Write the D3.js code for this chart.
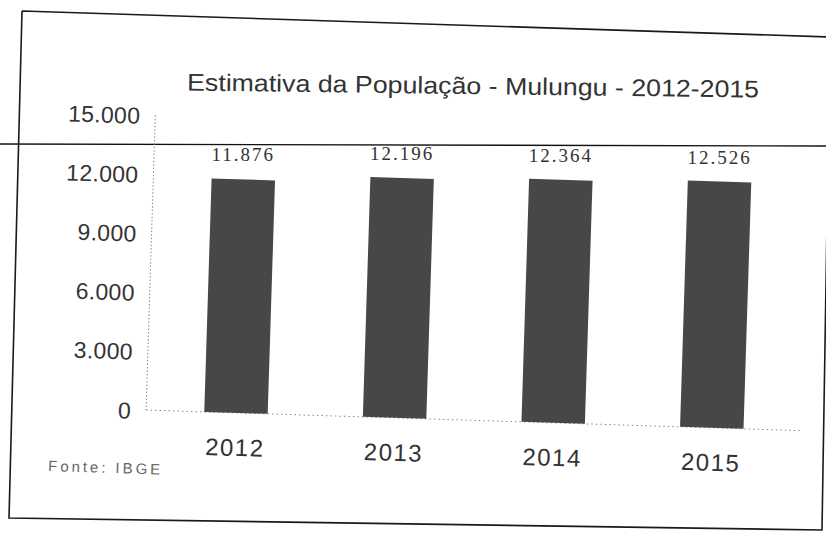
<!DOCTYPE html>
<html>
<head>
<meta charset="utf-8">
<script src="https://cdn.jsdelivr.net/npm/d3@7"></script>
<style>
  body { margin: 0; background: #fff; }
  svg { display: block; }
</style>
</head>
<body>
<svg id="chart" width="826" height="541"></svg>
<script>
// data
const years = ["2012", "2013", "2014", "2015"];
const population = [11876, 12196, 12364, 12526];
const yTicks = [0, 3000, 6000, 9000, 12000, 15000];
const titleText = "Estimativa da População  - Mulungu  -  2012-2015";
const sourceText = "Fonte: IBGE";

const W = 826, H = 541;
// the scan is tilted a little clockwise
const tilt = 1.8, pivot = [240, 413];

const ptBR = d3.formatLocale({ decimal: ",", thousands: ".", grouping: [3], currency: ["R$", ""] });
const fmt = ptBR.format(",d");

const svg = d3.select("#chart");

const x = d3.scaleBand()
    .domain(years)
    .range([146, 802])
    .paddingInner(0.6)
    .paddingOuter(0.367);

const y = d3.scaleLinear()
    .domain([0, 15000])
    .range([413, 118]);

// rotate a point the same way the group is rotated
function tilted(px, py) {
    let a = tilt * Math.PI / 180;
    let dx = px - pivot[0], dy = py - pivot[1];
    return [pivot[0] + dx * Math.cos(a) - dy * Math.sin(a),
            pivot[1] + dx * Math.sin(a) + dy * Math.cos(a)];
}

// straight scan line across the page
svg.append("line")
    .attr("x1", 0).attr("y1", 144)
    .attr("x2", W).attr("y2", 146)
    .attr("stroke", "#111")
    .attr("stroke-width", 1.4);

// frame of the chart box (the paper is not quite square in the scan)
svg.append("path")
    .attr("d", d3.line()([[22, 11], [830, 37], [822, 530], [9, 518], [22, 11]]))
    .attr("fill", "none")
    .attr("stroke", "#1a1a1a")
    .attr("stroke-width", 1.6);

let g = svg.append("g")
    .attr("transform", "rotate(" + tilt + "," + pivot[0] + "," + pivot[1] + ")");

// dotted axis lines
g.append("line")
    .attr("x1", x.range()[0]).attr("x2", x.range()[0])
    .attr("y1", y(15000)).attr("y2", y(0))
    .attr("stroke", "#888")
    .attr("stroke-width", 1)
    .attr("stroke-dasharray", "1.5,2");

g.append("line")
    .attr("x1", x.range()[0]).attr("x2", x.range()[1])
    .attr("y1", y(0)).attr("y2", y(0))
    .attr("stroke", "#888")
    .attr("stroke-width", 1)
    .attr("stroke-dasharray", "1.5,3");

// bars
g.selectAll("rect.bar")
    .data(population)
    .enter()
    .append("rect")
        .attr("class", "bar")
        .attr("x", (d, i) => x(years[i]))
        .attr("y", d => y(d))
        .attr("width", x.bandwidth())
        .attr("height", d => y(0) - y(d))
        .attr("fill", "#474747");

// y tick labels
g.selectAll("text.ytick")
    .data(yTicks)
    .enter()
    .append("text")
        .attr("class", "ytick")
        .attr("x", 131)
        .attr("y", d => y(d) + 9)
        .attr("text-anchor", "end")
        .attr("font-family", "'Liberation Sans', Arial, sans-serif")
        .attr("font-size", 23)
        .attr("letter-spacing", 0.3)
        .attr("fill", "#333")
        .text(d => fmt(d));

// category labels
g.selectAll("text.xtick")
    .data(years)
    .enter()
    .append("text")
        .attr("class", "xtick")
        .attr("x", d => x(d) + x.bandwidth() / 2)
        .attr("y", 456)
        .attr("text-anchor", "middle")
        .attr("font-family", "'Liberation Sans', Arial, sans-serif")
        .attr("font-size", 24)
        .attr("letter-spacing", 1.5)
        .attr("fill", "#333")
        .text(d => d);

g.append("text")
    .attr("x", 50)
    .attr("y", 477)
    .attr("font-family", "'Liberation Sans', Arial, sans-serif")
    .attr("font-size", 15)
    .attr("textLength", 112)
    .attr("lengthAdjust", "spacing")
    .attr("fill", "#666")
    .text(sourceText);

// value labels sit almost level in the scan, so they are placed unrotated
svg.selectAll("text.value")
    .data(population)
    .enter()
    .append("text")
        .attr("class", "value")
        .each(function(d, i) {
            let p = tilted(x(years[i]) + x.bandwidth() / 2, y(d));
            d3.select(this).attr("x", p[0]).attr("y", p[1] - 18);
        })
        .attr("text-anchor", "middle")
        .attr("font-family", "'Liberation Serif', 'Times New Roman', serif")
        .attr("font-size", 19)
        .attr("letter-spacing", 2)
        .attr("fill", "#333")
        .text(d => fmt(d));

// title
svg.append("text")
    .attr("x", 473)
    .attr("y", 94)
    .attr("transform", "rotate(0.7,473,94)")
    .attr("text-anchor", "middle")
    .attr("font-family", "'Liberation Sans', Arial, sans-serif")
    .attr("font-size", 24)
    .attr("textLength", 572)
    .attr("lengthAdjust", "spacingAndGlyphs")
    .attr("fill", "#333")
    .text(titleText);
</script>
</body>
</html>
